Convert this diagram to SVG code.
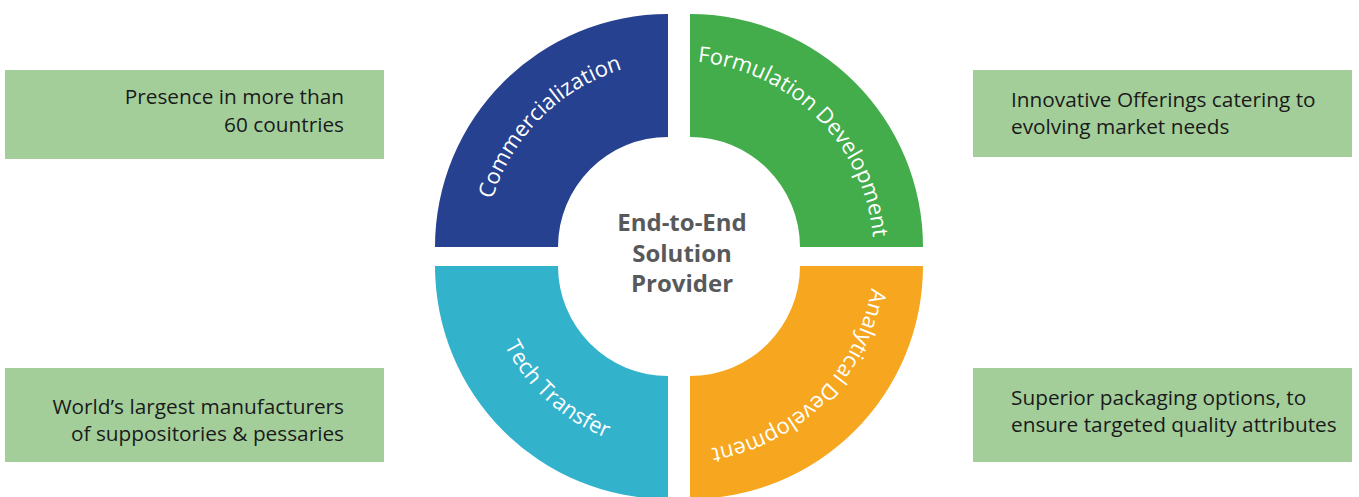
<svg xmlns="http://www.w3.org/2000/svg" xmlns:xlink="http://www.w3.org/1999/xlink" width="1359" height="497" viewBox="0 0 1359 497">
  <style>
    .box { fill: #A3CE9A; }
    .boxtext { font-family: "Open Sans", "Noto Sans", sans-serif; font-size: 20.8px; fill: #1a1a1a; }
    .arc-label { font-family: "Open Sans", "Noto Sans", sans-serif; font-size: 22px; fill: #ffffff; }
    .hub { font-family: "Open Sans", "Noto Sans", sans-serif; font-size: 24px; font-weight: 700; fill: #58595B; text-anchor: middle; }
  </style>
  <defs>
    <!-- label guides around the hub centre (679,256) -->
    <path id="arc-tl" d="M 484,256 A 195 195 0 0 1 679,61"/>
    <path id="arc-tr" d="M 679,61 A 195 195 0 0 1 874,256"/>
    <path id="arc-br" d="M 874,256 A 195 195 0 0 1 679,451"/>
    <path id="arc-bl" d="M 483,256 A 196 196 0 0 0 679,452"/>
  </defs>

  <rect width="1359" height="497" fill="#ffffff"/>

  <!-- ring segments -->
  <g id="commercialization">
    <path d="M 435,247 A 233 233 0 0 1 668,14 L 668,137 A 110 110 0 0 0 558,247 Z" fill="#26418F"/>
    <text class="arc-label"><textPath xlink:href="#arc-tl" href="#arc-tl" startOffset="50%" text-anchor="middle">Commercialization</textPath></text>
  </g>
  <g id="formulation-development">
    <path d="M 690,14 A 233 233 0 0 1 923,247 L 800,247 A 110 110 0 0 0 690,137 Z" fill="#42AD4A"/>
    <text class="arc-label"><textPath xlink:href="#arc-tr" href="#arc-tr" startOffset="50%" text-anchor="middle">Formulation Development</textPath></text>
  </g>
  <g id="analytical-development">
    <path d="M 923,266 A 233 233 0 0 1 690,499 L 690,376 A 110 110 0 0 0 800,266 Z" fill="#F7A71F"/>
    <text class="arc-label"><textPath xlink:href="#arc-br" href="#arc-br" startOffset="50%" text-anchor="middle">Analytical Development</textPath></text>
  </g>
  <g id="tech-transfer">
    <path d="M 435,266 L 558,266 A 110 110 0 0 0 668,376 L 668,499 A 233 233 0 0 1 435,266 Z" fill="#33B2CC"/>
    <text class="arc-label"><textPath xlink:href="#arc-bl" href="#arc-bl" startOffset="53%" text-anchor="middle">Tech Transfer</textPath></text>
  </g>

  <!-- hub -->
  <g id="hub">
    <text class="hub" x="682" y="231">End-to-End</text>
    <text class="hub" x="682" y="262">Solution</text>
    <text class="hub" x="682" y="292">Provider</text>
  </g>

  <!-- side notes -->
  <g id="note-presence">
    <rect class="box" x="5" y="70" width="379" height="89"/>
    <text class="boxtext" text-anchor="end"><tspan x="344" y="104">Presence in more than</tspan><tspan x="344" y="132">60 countries</tspan></text>
  </g>
  <g id="note-offerings">
    <rect class="box" x="973" y="70" width="379" height="87"/>
    <text class="boxtext"><tspan x="1011" y="107">Innovative Offerings catering to</tspan><tspan x="1011" y="134">evolving market needs</tspan></text>
  </g>
  <g id="note-manufacturing">
    <rect class="box" x="5" y="368" width="379" height="94"/>
    <text class="boxtext" text-anchor="end"><tspan x="344" y="414">World’s largest manufacturers</tspan><tspan x="344" y="441">of suppositories &amp; pessaries</tspan></text>
  </g>
  <g id="note-packaging">
    <rect class="box" x="973" y="368" width="379" height="94"/>
    <text class="boxtext"><tspan x="1011" y="405">Superior packaging options, to</tspan><tspan x="1011" y="432">ensure targeted quality attributes</tspan></text>
  </g>
</svg>
